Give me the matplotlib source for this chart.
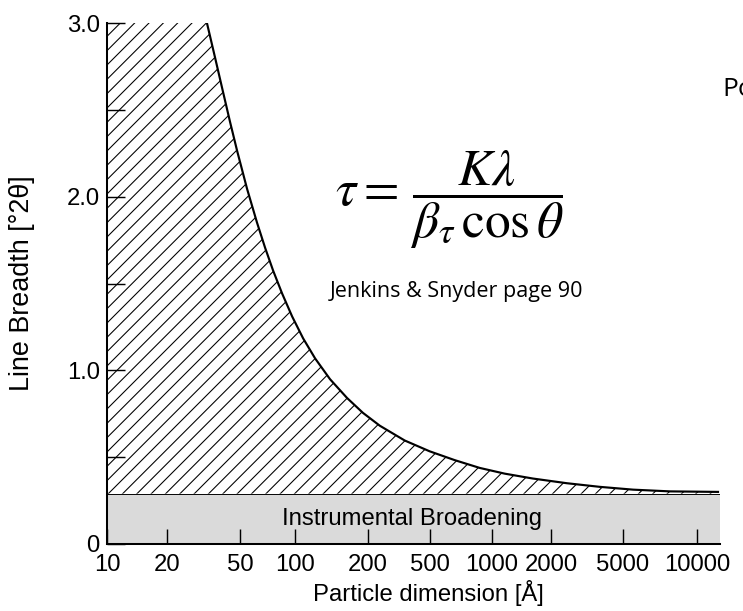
import matplotlib
matplotlib.use("Agg")
import matplotlib.pyplot as plt
from matplotlib.ticker import NullLocator
import numpy as np

DPI = 86
FIG_W, FIG_H = 743, 611

# Particle dimension ticks [Å] and their spacing along the (non-uniform) axis
size_ticks = [10, 20, 50, 100, 200, 500, 1000, 2000, 5000, 10000]
size_tick_labels = ["10", "20", "50", "100", "200", "500", "1000", "2000", "5000", "10000"]
size_tick_pos = [0.0, 0.915, 2.03, 2.87, 3.98, 4.92, 5.87, 6.77, 7.87, 9.0]

# Line breadth [°2θ] against particle dimension [Å]
particle_size = [33.0, 36.5, 40.4, 44.1, 48.2, 54.6, 61.9, 68.5, 75.8, 84.9,
                 96.3, 107.9, 120.9, 139.4, 163.9, 190.8, 238.8, 345.6, 500.0, 661.4,
                 874.6, 1165.0, 1619.0, 2451.0, 3732.0, 5493.0, 7767.0, 12172.0]
line_breadth = [3.0, 2.803, 2.602, 2.430, 2.263, 2.045, 1.850, 1.706, 1.574, 1.442,
                1.310, 1.184, 1.069, 0.949, 0.841, 0.755, 0.681, 0.596, 0.534, 0.483,
                0.438, 0.405, 0.377, 0.350, 0.329, 0.313, 0.303, 0.300]

instrumental_breadth = 0.29

breadth_ticks = [0, 1, 2, 3]
breadth_tick_labels = ["0", "1.0", "2.0", "3.0"]
breadth_minor_ticks = [0.5, 1.5, 2.5]

_LOGS = np.log10(size_ticks)
_POS = np.asarray(size_tick_pos)


def _interp_ext(v, xp, fp):
    """np.interp with linear extrapolation past both ends."""
    v = np.atleast_1d(np.asarray(v, dtype=float))
    out = np.interp(v, xp, fp)
    lo = v < xp[0]
    hi = v > xp[-1]
    out[lo] = fp[0] + (v[lo] - xp[0]) * (fp[1] - fp[0]) / (xp[1] - xp[0])
    out[hi] = fp[-1] + (v[hi] - xp[-1]) * (fp[-1] - fp[-2]) / (xp[-1] - xp[-2])
    return out


def size_to_pos(s):
    s = np.asarray(s, dtype=float)
    logs = np.log10(np.where(s > 0, s, 1e-6))
    return _interp_ext(logs, _LOGS, _POS).reshape(s.shape)


def pos_to_size(p):
    p = np.asarray(p, dtype=float)
    return (10 ** _interp_ext(p, _POS, _LOGS)).reshape(p.shape)


def px(x, y):
    """Pixel position -> figure fraction."""
    return x / FIG_W, 1 - y / FIG_H


plt.rcParams["font.family"] = ["Liberation Sans", "DejaVu Sans"]
plt.rcParams["mathtext.fontset"] = "stix"
plt.rcParams["hatch.linewidth"] = 0.9

fig = plt.figure(figsize=(FIG_W / DPI, FIG_H / DPI), dpi=DPI)
ax = fig.add_axes([107 / FIG_W, 1 - 544 / FIG_H, (720 - 107) / FIG_W, (544 - 23) / FIG_H])
ax.set_xscale("function", functions=(size_to_pos, pos_to_size))
ax.set_xlim(10, 12400)
ax.set_ylim(0, 3.0)

# instrumental broadening band
ax.axhspan(0, instrumental_breadth, facecolor="#dadada", edgecolor="none", zorder=0.5)
ax.axhline(instrumental_breadth, color="black", linewidth=0.8, zorder=1)

# hatched region between the band and the breadth curve
hatch_x = [size_ticks[0]] + particle_size
hatch_y = [line_breadth[0]] + line_breadth
ax.fill_between(hatch_x, instrumental_breadth, hatch_y, facecolor="none",
                edgecolor="black", hatch="//", linewidth=0, zorder=1)
ax.plot(particle_size, line_breadth, color="black", linewidth=1.8,
        solid_joinstyle="round", zorder=2)

ax.text(pos_to_size(4.65)[()], instrumental_breadth / 2, "Instrumental Broadening",
        ha="center", va="center", fontsize=20)

for side in ("top", "right"):
    ax.spines[side].set_visible(False)
for side in ("left", "bottom"):
    ax.spines[side].set_linewidth(1.7)

ax.set_xticks(size_ticks, size_tick_labels)
ax.xaxis.set_minor_locator(NullLocator())
ax.tick_params(axis="x", direction="in", length=12.5, width=1.2, pad=8, labelsize=20)
ax.set_yticks(breadth_ticks, breadth_tick_labels)
ax.set_yticks(breadth_minor_ticks, minor=True)
ax.tick_params(axis="y", which="both", direction="in", length=15, width=1.2, pad=6, labelsize=20)

ax.set_xlabel("Particle dimension [Å]", fontsize=20)
ax.xaxis.set_label_coords(0.524, -0.069)
ax.set_ylabel("Line Breadth [°2θ]", fontsize=22.5)
ax.yaxis.set_label_coords(-0.117, 0.5)

fig.text(*px(335, 200), r"$\tau =\, \dfrac{K\lambda}{\beta_\tau\,\cos\theta}$",
         fontsize=43, ha="left", va="center")
fig.text(*px(330, 297), "Jenkins & Snyder page 90", fontsize=18,
         family="Open Sans", ha="left", va="baseline")
fig.text(*px(722, 96), "Po", fontsize=22, family="Open Sans", ha="left", va="baseline")

fig.savefig("out.png", dpi=DPI)
